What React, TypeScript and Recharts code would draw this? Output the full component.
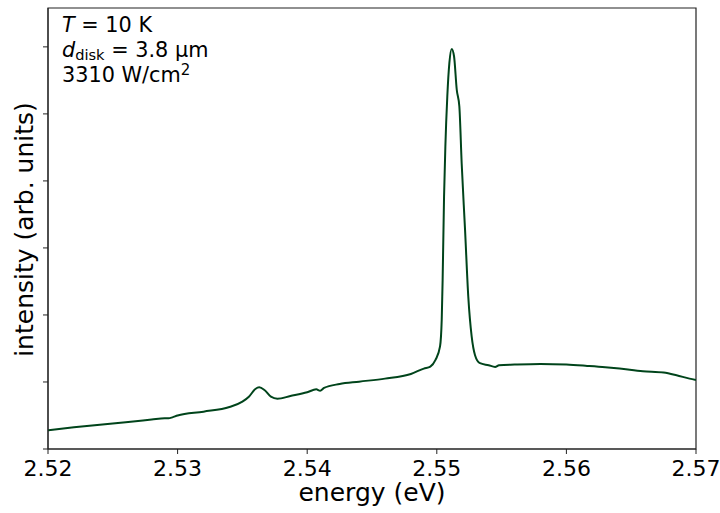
import React from "react";
import { LineChart, Line, XAxis, YAxis, ReferenceArea, Label } from "recharts";

// Photoluminescence spectrum: energy (eV) vs. intensity (arb. units)
const energy = [
  2.52, 2.522, 2.524, 2.526, 2.528, 2.529, 2.5293, 2.5296, 2.53, 2.532,
  2.534, 2.535, 2.5355, 2.536, 2.5363, 2.5367, 2.5372, 2.5377, 2.5387, 2.54,
  2.5407, 2.541, 2.5413, 2.5425, 2.544, 2.546, 2.548, 2.549, 2.5495, 2.5499,
  2.55025, 2.55038, 2.55045, 2.55056, 2.55066, 2.55081, 2.55097, 2.55115, 2.55133, 2.55154,
  2.55174, 2.55192, 2.55218, 2.55243, 2.55269, 2.55295, 2.55333, 2.554, 2.5545, 2.5548,
  2.556, 2.558, 2.56, 2.5616, 2.563, 2.5641, 2.5659, 2.5675, 2.5685, 2.5695,
  2.57,
];
const intensity = [
  0.28, 0.323, 0.363, 0.4, 0.44, 0.46, 0.458, 0.472, 0.5, 0.557,
  0.627, 0.706, 0.78, 0.895, 0.92, 0.88, 0.78, 0.75, 0.79, 0.846,
  0.89, 0.87, 0.912, 0.97, 1.005, 1.05, 1.12, 1.2, 1.23, 1.33,
  1.53, 1.93, 2.52, 3.77, 4.51, 5.26, 5.76, 5.97, 5.86, 5.36,
  5.11, 4.26, 3.27, 2.27, 1.68, 1.4, 1.28, 1.25, 1.225, 1.25,
  1.26, 1.27, 1.26, 1.24, 1.22, 1.2, 1.16, 1.14, 1.1, 1.05,
  1.03,
];
const xTicks = [2.52, 2.53, 2.54, 2.55, 2.56, 2.57];
const yTicks = [0, 1, 2, 3, 4, 5, 6];

const data = energy.map((e, i) => ({ e, v: intensity[i] }));

const FONT = "'DejaVu Sans', sans-serif";
const GREEN = "#00441b";

export default function App() {
  return (
    <div style={{ position: "absolute", left: 0, top: 0, width: 720, height: 513 }}>
      <LineChart
        width={720}
        height={513}
        data={data}
        margin={{ top: 8, right: 24, left: 0, bottom: 0 }}
      >
        <XAxis
          dataKey="e"
          type="number"
          domain={[2.52, 2.57]}
          ticks={xTicks}
          allowDataOverflow
          tickFormatter={(v: number) => v.toFixed(2)}
          tick={{ fontSize: 22, fill: "#000", fontFamily: FONT }}
          tickSize={5}
          tickMargin={6}
          height={64}
          stroke="#222"
        >
          <Label
            value="energy (eV)"
            position="insideBottom"
            offset={12}
            style={{ fontSize: 25, fill: "#000", fontFamily: FONT }}
          />
        </XAxis>
        <YAxis
          type="number"
          domain={[0, 6.58]}
          ticks={yTicks}
          allowDataOverflow
          tickFormatter={() => ""}
          tickSize={5}
          width={48}
          stroke="#222"
        >
          <Label
            content={(props: any) => {
              const vb = props.viewBox || { x: 0, y: 8, width: 48, height: 441 };
              const x = vb.x + 33;
              const y = vb.y + vb.height / 2 + 1;
              return (
                <text
                  x={x}
                  y={y}
                  transform={`rotate(-90 ${x} ${y})`}
                  textAnchor="middle"
                  style={{ fontSize: 25, fill: "#000", fontFamily: FONT }}
                >
                  intensity (arb. units)
                </text>
              );
            }}
          />
        </YAxis>
        <Line
          type="monotone"
          dataKey="v"
          stroke={GREEN}
          strokeWidth={2}
          dot={false}
          isAnimationActive={false}
        />
        <ReferenceArea
          x1={2.52}
          x2={2.57}
          y1={0}
          y2={6.58}
          fill="none"
          stroke="#222"
          strokeWidth={1.2}
          ifOverflow="visible"
        />
      </LineChart>
      <svg
        width={720}
        height={513}
        style={{ position: "absolute", left: 0, top: 0, pointerEvents: "none" }}
      >
        <g style={{ fontFamily: FONT, fontSize: 20.8, fill: "#000" }}>
          <text x={62} y={32.3}>
            <tspan fontStyle="italic">T</tspan>
            <tspan> = 10 K</tspan>
          </text>
          <text x={62} y={57.3}>
            <tspan fontStyle="italic">d</tspan>
            <tspan fontSize={14.6} dy={3}>disk</tspan>
            <tspan dy={-3}> = 3.8 µm</tspan>
          </text>
          <text x={62} y={81.7}>
            <tspan>3310 W/cm</tspan>
            <tspan fontSize={15} dy={-7}>2</tspan>
          </text>
        </g>
      </svg>
    </div>
  );
}
